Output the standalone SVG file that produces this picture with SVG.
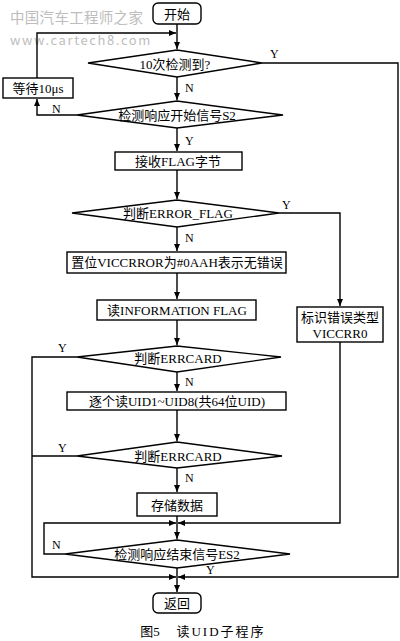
<svg xmlns="http://www.w3.org/2000/svg" width="400" height="641" viewBox="0 0 400 641">
<defs>
<marker id="ah" markerWidth="8" markerHeight="8" refX="7" refY="4" orient="auto" markerUnits="userSpaceOnUse">
<path d="M0,1 L7,4 L0,7 Z" fill="#000"/>
</marker>
<style>
.s{fill:#fff;stroke:#000;stroke-width:1.4}
.c{fill:none;stroke:#000;stroke-width:1.4}
.t{font-family:"Liberation Serif","Noto Sans CJK SC",serif;font-size:13px;fill:#000;text-anchor:middle;dominant-baseline:central}
.l{font-family:"Liberation Serif","Noto Sans CJK SC",serif;font-size:12px;fill:#000;dominant-baseline:central}
.w{font-family:"Noto Sans CJK SC",sans-serif;fill:#bdbdbd}
</style>
</defs>
<rect width="400" height="641" fill="#fff"/>
<g id="watermark">
<text class="w" x="10" y="23" font-size="14.5" letter-spacing="0.3">中国汽车工程师之家</text>
<text class="w" x="10" y="45" font-size="13" font-family="Liberation Sans" letter-spacing="1.6">www.cartech8.com</text>
</g>
<g id="connectors">
<line class="c" x1="177" y1="24" x2="177" y2="49" marker-end="url(#ah)"/>
<polyline class="c" points="37,78 37,33 176,33" marker-end="url(#ah)"/>
<line class="c" x1="177" y1="77" x2="177" y2="100" marker-end="url(#ah)"/>
<polyline class="c" points="77,115 37,115 37,99" marker-end="url(#ah)"/>
<line class="c" x1="177" y1="128" x2="177" y2="151" marker-end="url(#ah)"/>
<line class="c" x1="177" y1="170" x2="177" y2="199" marker-end="url(#ah)"/>
<polyline class="c" points="279,213 340,213 340,306" marker-end="url(#ah)"/>
<line class="c" x1="177" y1="227" x2="177" y2="251" marker-end="url(#ah)"/>
<line class="c" x1="177" y1="273" x2="177" y2="299" marker-end="url(#ah)"/>
<line class="c" x1="177" y1="320" x2="177" y2="345" marker-end="url(#ah)"/>
<line class="c" x1="177" y1="372" x2="177" y2="391" marker-end="url(#ah)"/>
<line class="c" x1="177" y1="410" x2="177" y2="441" marker-end="url(#ah)"/>
<line class="c" x1="177" y1="468" x2="177" y2="492" marker-end="url(#ah)"/>
<line class="c" x1="177" y1="516" x2="177" y2="539" marker-end="url(#ah)"/>
<polyline class="c" points="340,342 340,523 178,523" marker-end="url(#ah)"/>
<polyline class="c" points="65,554 44,554 44,523 176,523" marker-end="url(#ah)"/>
<polyline class="c" points="262,63 398,63 398,577 178,577" marker-end="url(#ah)"/>
<polyline class="c" points="77,357 32,357 32,577 176,577" marker-end="url(#ah)"/>
<line class="c" x1="77" y1="456" x2="32" y2="456"/>
<line class="c" x1="177" y1="568" x2="177" y2="592" marker-end="url(#ah)"/>
<text class="l" x="270" y="54">Y</text>
<text class="l" x="185" y="88">N</text>
<text class="l" x="52" y="109">N</text>
<text class="l" x="185" y="141">Y</text>
<text class="l" x="282" y="205">Y</text>
<text class="l" x="185" y="238">N</text>
<text class="l" x="58" y="348">Y</text>
<text class="l" x="185" y="382">N</text>
<text class="l" x="58" y="448">Y</text>
<text class="l" x="185" y="478">N</text>
<text class="l" x="52" y="545">N</text>
<text class="l" x="206" y="570">Y</text>
</g>
<g id="start"><rect class="s" x="153" y="3" width="48" height="21" rx="5"/><text class="t" x="177" y="14">开始</text></g>
<g id="d1"><polygon class="s" points="88,63 177,50 262,63 177,77"/><text class="t" x="175" y="64">10次检测到?</text></g>
<g id="wait"><rect class="s" x="3" y="78" width="70" height="20"/><text class="t" x="38" y="88">等待10μs</text></g>
<g id="d2"><polygon class="s" points="77,115 177,101 283,115 177,128"/><text class="t" x="177" y="115">检测响应开始信号S2</text></g>
<g id="recv"><rect class="s" x="115" y="152" width="127" height="18"/><text class="t" x="178" y="161">接收FLAG字节</text></g>
<g id="d3"><polygon class="s" points="72,213 177,200 279,213 177,227"/><text class="t" x="178" y="213">判断ERROR_FLAG</text></g>
<g id="set"><rect class="s" x="67" y="252" width="219" height="21"/><text class="t" x="177" y="262">置位VICCRROR为#0AAH表示无错误</text></g>
<g id="readinfo"><rect class="s" x="97" y="300" width="159" height="20"/><text class="t" x="177" y="310">读INFORMATION FLAG</text></g>
<g id="mark"><rect class="s" x="297" y="307" width="86" height="35"/><text class="t" x="340" y="317">标识错误类型</text><text class="t" x="340" y="333">VICCRR0</text></g>
<g id="d4"><polygon class="s" points="77,357 177,346 281,357 177,372"/><text class="t" x="178" y="358">判断ERRCARD</text></g>
<g id="readuid"><rect class="s" x="67" y="392" width="219" height="18"/><text class="t" x="177" y="401">逐个读UID1~UID8(共64位UID)</text></g>
<g id="d5"><polygon class="s" points="77,456 177,442 282,456 177,468"/><text class="t" x="178" y="456">判断ERRCARD</text></g>
<g id="store"><rect class="s" x="137" y="493" width="80" height="23"/><text class="t" x="177" y="505">存储数据</text></g>
<g id="d6"><polygon class="s" points="65,554 177,540 290,554 177,568"/><text class="t" x="177" y="554">检测响应结束信号ES2</text></g>
<g id="end"><rect class="s" x="153" y="593" width="48" height="20" rx="5"/><text class="t" x="177" y="603">返回</text></g>
<g id="caption"><text class="t" x="150" y="631" font-size="14">图5</text><text class="t" x="221" y="631" font-size="14" letter-spacing="2">读UID子程序</text></g>
</svg>
